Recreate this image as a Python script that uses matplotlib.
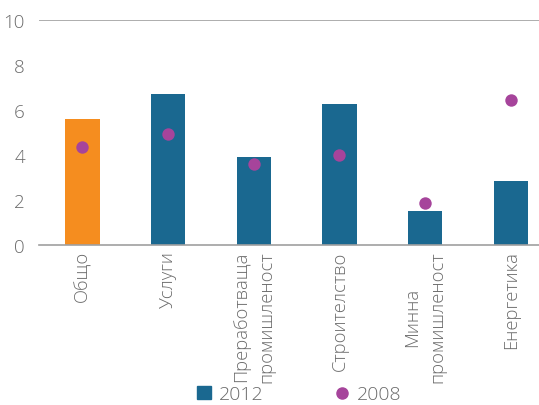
import numpy as np
import matplotlib.pyplot as plt
from matplotlib.patches import Patch
from matplotlib.lines import Line2D

categories = ["Общо", "Услуги", "Преработваща\nпромишленост", "Строителство",
              "Минна\nпромишленост", "Енергетика"]
values_2012 = [5.58, 6.70, 3.89, 6.24, 1.50, 2.85]
values_2008 = [4.35, 4.91, 3.58, 3.98, 1.84, 6.45]
bar_colors = ["#F58D1F", "#1A6890", "#1A6890", "#1A6890", "#1A6890", "#1A6890"]

plt.rcParams['font.family'] = ['Open Sans', 'DejaVu Sans']
gray = "#6b6b6b"

fig = plt.figure(figsize=(5.39, 4.06), dpi=100)
ax = fig.add_axes([0.072, 0.395, 0.928, 0.554])

x = np.arange(len(categories))
ax.bar(x, values_2012, width=0.4, color=bar_colors, zorder=2)
ax.scatter(x, values_2008, s=80, color="#A6449B", zorder=3, linewidths=0)

ax.set_ylim(0, 10)
ax.set_xlim(-0.51, 5.33)
ax.set_yticks([0, 2, 4, 6, 8, 10])
ax.axhline(10, color="#a0a0a0", lw=1.2, zorder=1)
for s in ["top", "right", "left"]:
    ax.spines[s].set_visible(False)
ax.spines["bottom"].set_color("#a0a0a0")
ax.spines["bottom"].set_linewidth(1.2)
ax.tick_params(length=0, colors=gray, labelsize=13.5)
ax.tick_params(axis="y", pad=10)
ax.tick_params(axis="x", labelsize=13.2, pad=4)
ax.set_xticks(x)
ax.set_xticklabels(categories, rotation=90, va="top", ha="center",
                   linespacing=1.5, fontweight="light")
for lbl in ax.get_yticklabels():
    lbl.set_fontweight("light")

handles = [Patch(color="#1A6890", label="2012"),
           Line2D([], [], marker="o", ls="", color="#A6449B", markersize=8, label="2008")]
leg = fig.legend(handles=handles, loc="center", bbox_to_anchor=(0.555, 0.026), ncol=2,
                 frameon=False, fontsize=14, columnspacing=3.7, handlelength=0.7,
                 handletextpad=0.4)
for t in leg.get_texts():
    t.set_color(gray)
    t.set_fontweight("light")

fig.savefig("out.png", dpi=100)
